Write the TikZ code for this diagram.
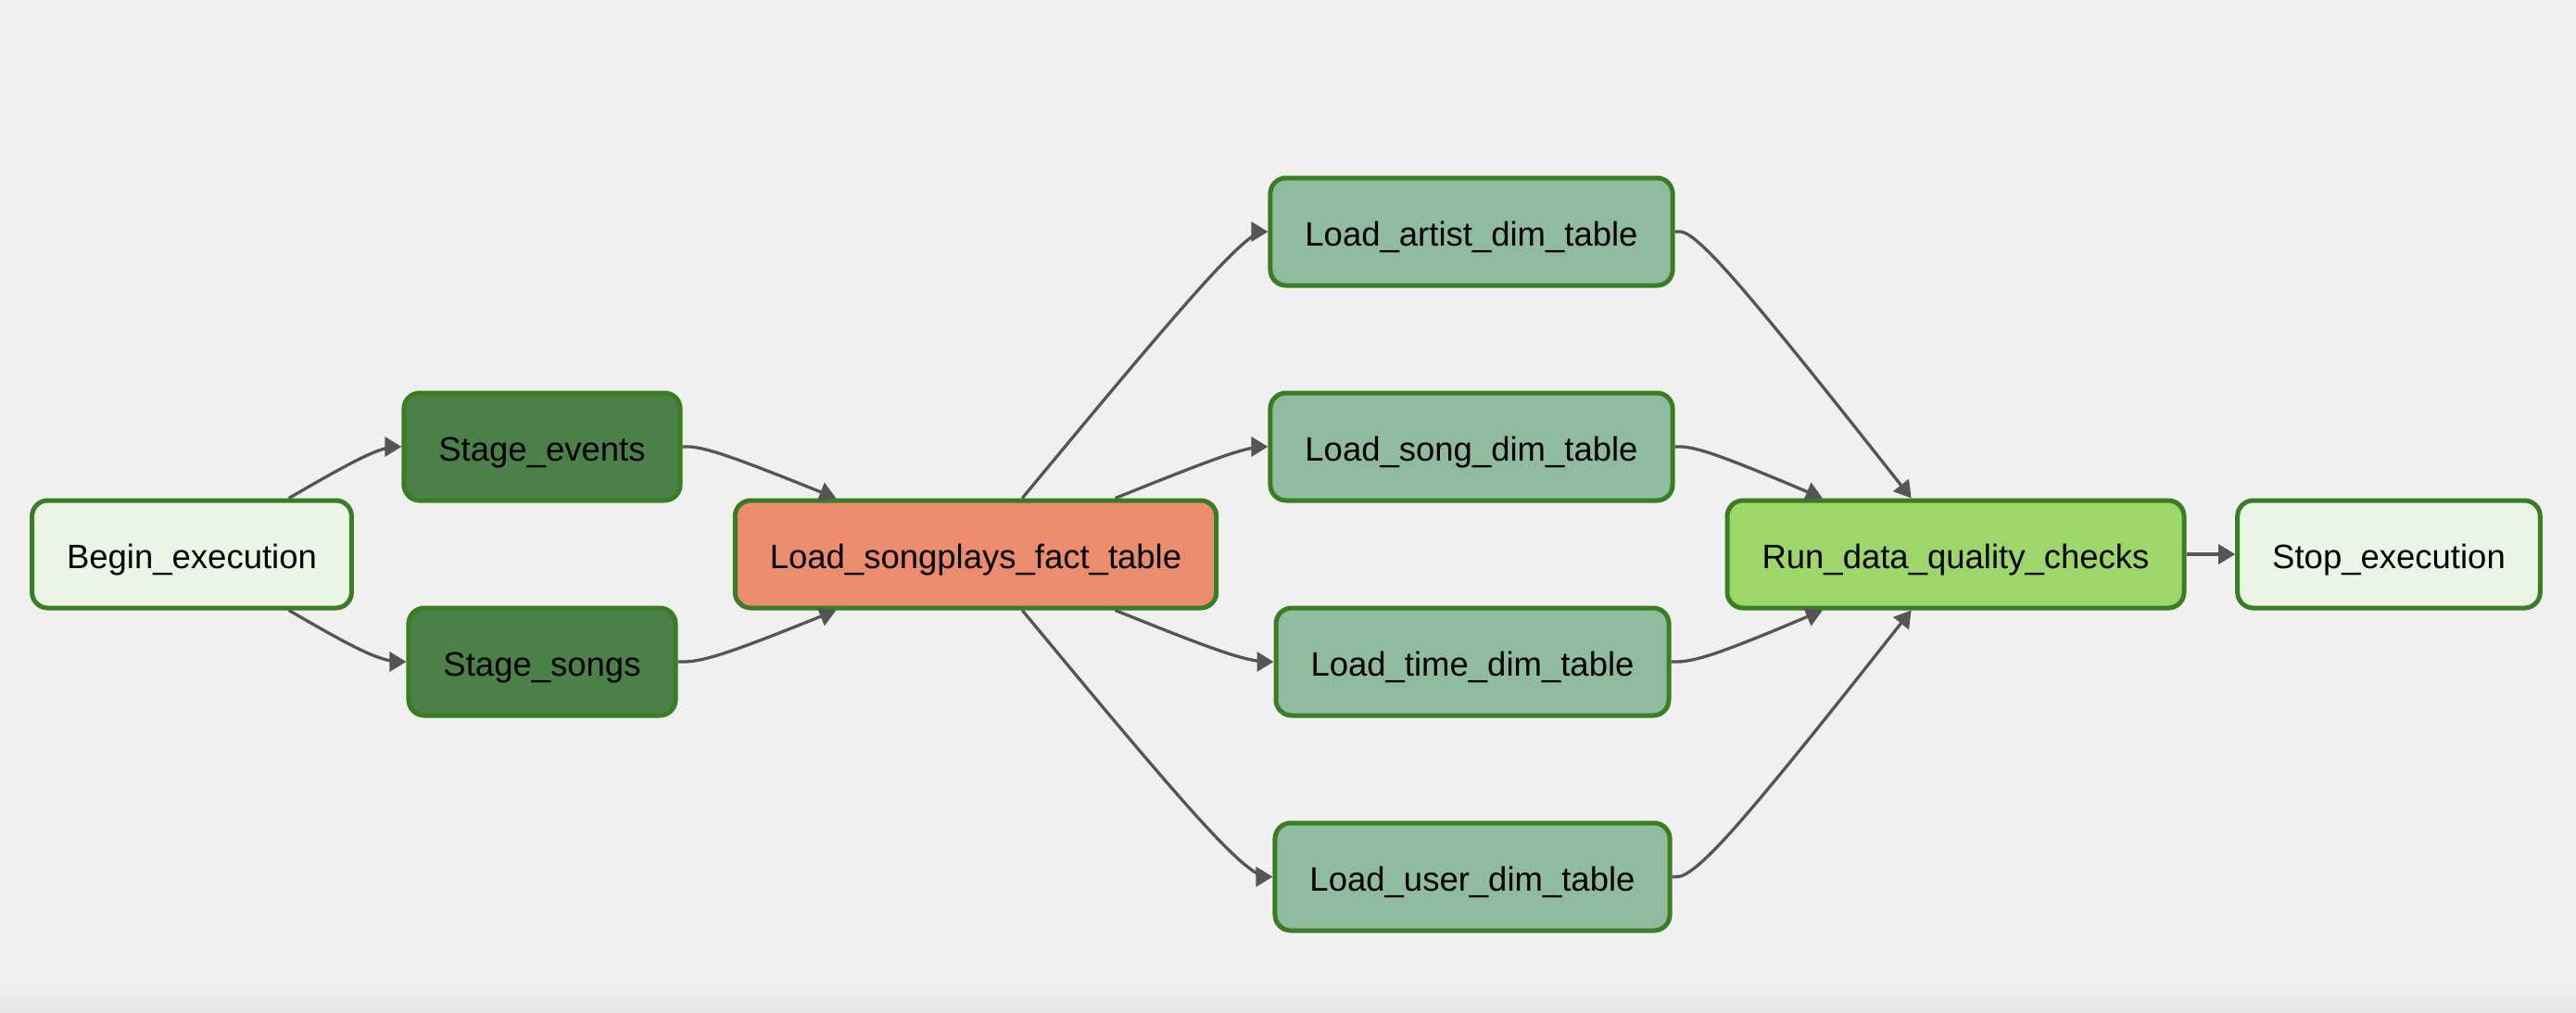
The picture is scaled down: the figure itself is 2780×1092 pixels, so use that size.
\documentclass[tikz,border=0pt]{standalone}
\usepackage{fontspec}
\setmainfont{Liberation Sans}
\usetikzlibrary{arrows.meta}
\definecolor{bg}{HTML}{F0F0F0}
\definecolor{bgdark}{HTML}{E6E6E6}
\definecolor{taskborder}{HTML}{3B7D23}
\definecolor{startfill}{HTML}{EAF5E6}
\definecolor{stagefill}{HTML}{4B8048}
\definecolor{factfill}{HTML}{EB8C6F}
\definecolor{dimfill}{HTML}{8FBB9F}
\definecolor{qcfill}{HTML}{9DD76C}
\definecolor{edgegrey}{HTML}{555555}
\begin{document}
\begin{tikzpicture}[x=1pt,y=-1pt,
  task/.style={draw=taskborder, line width=5pt, rounded corners=17pt,
    minimum height=116pt, inner xsep=37.5pt, inner ysep=0pt,
    text height=30pt, text depth=0pt,
    font=\fontsize{36.5}{44}\selectfont, text=black},
  flow/.style={draw=edgegrey, line width=3.3pt,
    -{Triangle[length=18pt,width=21pt]}},
]
\fill[bg] (0,0) rectangle (2780,1092);
\shade[top color=bg, bottom color=bgdark] (0,1062) rectangle (2780,1092);
\useasboundingbox (0,0) rectangle (2780,1092);

\node[task, fill=startfill] (begin) at (207,598) {Begin\_execution};
\node[task, fill=stagefill] (stageev) at (585,482) {Stage\_events};
\node[task, fill=stagefill] (stagesg) at (585,714) {Stage\_songs};
\node[task, fill=factfill] (songplays) at (1053,598) {Load\_songplays\_fact\_table};
\node[task, fill=dimfill] (artist) at (1588,250) {Load\_artist\_dim\_table};
\node[task, fill=dimfill] (song) at (1588,482) {Load\_song\_dim\_table};
\node[task, fill=dimfill] (time) at (1589,714) {Load\_time\_dim\_table};
\node[task, fill=dimfill] (user) at (1589,946) {Load\_user\_dim\_table};
\node[task, fill=qcfill] (run) at (2110.5,598) {Run\_data\_quality\_checks};
\node[task, fill=startfill] (stop) at (2578,598) {Stop\_execution};

% begin -> stage tasks
\draw[flow] (begin) -- (327.8,528.25)
  .. controls (343.87,519.0) and (375.93,500.5) .. (396.22,491.25)
  .. controls (416.5,482) and (425.0,482) .. (429.25,482) -- (stageev);
\draw[flow] (begin) -- (327.8,667.75)
  .. controls (343.87,677.0) and (375.93,695.5) .. (397.05,704.75)
  .. controls (418.17,714) and (428.33,714) .. (433.42,714) -- (stagesg);
% stage tasks -> fact table
\draw[flow] (stageev) -- (741.08,482)
  .. controls (745.67,482) and (754.83,482) .. (782.47,491.25)
  .. controls (810.1,500.5) and (856.2,519.0) .. (879.25,528.25) -- (songplays);
\draw[flow] (stagesg) -- (736.92,714)
  .. controls (742.33,714) and (753.17,714) .. (781.63,704.75)
  .. controls (810.1,695.5) and (856.2,677.0) .. (879.25,667.75) -- (songplays);
% fact table -> dimension tables
\draw[flow] (songplays) -- (1143.0,489.58)
  .. controls (1182.8,441.67) and (1262.4,345.83) .. (1306.62,297.92)
  .. controls (1350.83,250) and (1359.67,250) .. (1364.08,250) -- (artist);
\draw[flow] (songplays) -- (1226.75,528.25)
  .. controls (1249.8,519.0) and (1295.9,500.5) .. (1323.37,491.25)
  .. controls (1350.83,482) and (1359.67,482) .. (1364.08,482) -- (song);
\draw[flow] (songplays) -- (1226.75,667.75)
  .. controls (1249.8,677.0) and (1295.9,695.5) .. (1324.37,704.75)
  .. controls (1352.83,714) and (1363.67,714) .. (1369.08,714) -- (time);
\draw[flow] (songplays) -- (1143.0,706.42)
  .. controls (1182.8,754.33) and (1262.4,850.17) .. (1307.45,898.08)
  .. controls (1352.5,946) and (1363.0,946) .. (1368.25,946) -- (user);
% dimension tables -> quality checks
\draw[flow] (artist) -- (1812.08,250)
  .. controls (1816.67,250) and (1825.83,250) .. (1868.35,297.92)
  .. controls (1910.87,345.83) and (1986.73,441.67) .. (2024.67,489.58) -- (run);
\draw[flow] (song) -- (1812.08,482)
  .. controls (1816.67,482) and (1825.83,482) .. (1852.38,491.25)
  .. controls (1878.93,500.5) and (1922.87,519.0) .. (1944.83,528.25) -- (run);
\draw[flow] (time) -- (1807.92,714)
  .. controls (1813.33,714) and (1824.17,714) .. (1851.55,704.75)
  .. controls (1878.93,695.5) and (1922.87,677.0) .. (1944.83,667.75) -- (run);
\draw[flow] (user) -- (1808.75,946)
  .. controls (1814.0,946) and (1824.5,946) .. (1867.68,898.08)
  .. controls (1910.87,850.17) and (1986.73,754.33) .. (2024.67,706.42) -- (run);
% quality checks -> stop
\draw[flow] (run) -- (stop);
\end{tikzpicture}
\end{document}
